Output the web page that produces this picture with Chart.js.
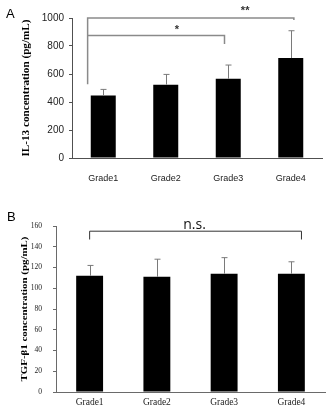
<!DOCTYPE html>
<html>
<head>
<meta charset="utf-8">
<script src="https://cdn.jsdelivr.net/npm/chart.js@4/dist/chart.umd.min.js"></script>
<style>
  html, body { margin: 0; padding: 0; background: #fff; }
  #wrap { position: relative; width: 328px; height: 414px; }
  #il13, #tgf { position: absolute; left: 0; }
  #il13 { top: 0; }
  #tgf { top: 200px; }
</style>
</head>
<body>
<div id="wrap">
  <canvas id="il13" width="328" height="200"></canvas>
  <canvas id="tgf" width="328" height="214"></canvas>
</div>
<script>
// Grade categories shared by both panels
const grades = ['Grade1', 'Grade2', 'Grade3', 'Grade4'];

// Panel A: IL-13 (pg/mL), mean and upper SD
const il13Mean = [447, 524, 566, 714];
const il13Sd = [43, 73, 98, 195];

// Panel B: TGF-beta1 (pg/mL), mean and upper SD
const tgfMean = [112, 111, 114, 114];
const tgfSd = [10, 17, 15.5, 11.5];

// Significance brackets: ends in category units, heights in axis units
const il13Brackets = [
    { from: -0.25, to: 3.05, y: 1000, dropFrom: 526, dropTo: 985, label: '**', labelX: 2.27, labelY: 1030 },
    { from: -0.25, to: 1.94, y: 875, dropFrom: 875, dropTo: 814, label: '*', labelX: 1.18, labelY: 892 }
];
const tgfBrackets = [
    { from: 0.0, to: 3.15, y: 155, dropFrom: 147, dropTo: 147, label: 'n.s.', labelX: 1.56, labelY: 157 }
];

// Draws upper error bars, brackets, the rotated axis title and the panel letter
const overlayPlugin = {
    id: 'overlay',
    afterDatasetsDraw(chart, args, opts) {
        const ctx = chart.ctx;
        const x = chart.scales.x;
        const y = chart.scales.y;

        // error bars (upper half only)
        ctx.save();
        ctx.strokeStyle = opts.errColor;
        ctx.lineWidth = 1;
        opts.mean.forEach((m, i) => {
            const px = Math.round(x.getPixelForValue(i)) + 0.5;
            const top = y.getPixelForValue(m + opts.sd[i]);
            ctx.beginPath();
            ctx.moveTo(px, y.getPixelForValue(m));
            ctx.lineTo(px, top);
            ctx.moveTo(px - 3, top);
            ctx.lineTo(px + 3, top);
            ctx.stroke();
        });
        ctx.restore();

        // brackets
        ctx.save();
        ctx.strokeStyle = opts.bracketColor;
        ctx.lineWidth = opts.bracketWidth;
        opts.brackets.forEach(b => {
            const x1 = x.getPixelForValue(b.from);
            const x2 = x.getPixelForValue(b.to);
            const yy = y.getPixelForValue(b.y);
            ctx.beginPath();
            ctx.moveTo(x1, y.getPixelForValue(b.dropFrom));
            ctx.lineTo(x1, yy);
            ctx.lineTo(x2, yy);
            ctx.lineTo(x2, y.getPixelForValue(b.dropTo));
            ctx.stroke();

            ctx.fillStyle = opts.labelColor;
            ctx.font = opts.labelFont;
            ctx.textAlign = 'center';
            ctx.textBaseline = 'alphabetic';
            ctx.fillText(b.label, x.getPixelForValue(b.labelX), y.getPixelForValue(b.labelY));
        });
        ctx.restore();

        // rotated axis title, squeezed to its drawn length
        ctx.save();
        ctx.font = opts.titleFont;
        ctx.fillStyle = '#000';
        ctx.textAlign = 'center';
        ctx.textBaseline = 'middle';
        const w = ctx.measureText(opts.title).width;
        ctx.translate(opts.titleX, (y.top + y.bottom) / 2);
        ctx.rotate(-Math.PI / 2);
        ctx.scale(opts.titleLength / w, 1);
        ctx.fillText(opts.title, 0, 0);
        ctx.restore();

        // panel letter
        ctx.save();
        ctx.font = '13px "Liberation Sans", Arial, sans-serif';
        ctx.fillStyle = '#000';
        ctx.textAlign = 'left';
        ctx.textBaseline = 'top';
        ctx.fillText(opts.letter, opts.letterX, opts.letterY);
        ctx.restore();
    }
};

function makePanel(canvasId, cfg) {
    return new Chart(document.getElementById(canvasId), {
        type: 'bar',
        data: {
            labels: grades,
            datasets: [{
                data: cfg.mean,
                backgroundColor: '#000',
                borderWidth: 0,
                barPercentage: 0.4,
                categoryPercentage: 1.0
            }]
        },
        options: {
            responsive: false,
            animation: false,
            layout: { padding: cfg.padding },
            plugins: {
                legend: { display: false },
                tooltip: { enabled: false },
                overlay: cfg.overlay
            },
            scales: {
                x: {
                    grid: { display: false, drawTicks: false },
                    border: { display: true, color: cfg.axisColor, width: 1 },
                    ticks: { color: '#222', font: cfg.xFont, padding: cfg.xPad, maxRotation: 0 },
                    afterFit(scale) { scale.height = cfg.xHeight; }
                },
                y: {
                    min: 0,
                    max: cfg.max,
                    grid: { drawOnChartArea: false, tickLength: 3, color: cfg.axisColor },
                    border: { display: true, color: cfg.axisColor, width: 1 },
                    ticks: {
                        stepSize: cfg.step,
                        color: '#222',
                        font: cfg.yFont,
                        padding: cfg.yPad,
                        callback: v => String(v)
                    },
                    afterFit(scale) { scale.width = cfg.yWidth; }
                }
            }
        },
        plugins: [overlayPlugin]
    });
}

// Panel A
makePanel('il13', {
    mean: il13Mean,
    max: 1000,
    step: 200,
    padding: { top: 18, right: 6, left: 0, bottom: 0 },
    axisColor: '#505050',
    xFont: { family: '"Liberation Sans", Arial, sans-serif', size: 9 },
    yFont: { family: '"Liberation Sans", Arial, sans-serif', size: 10 },
    xPad: 15,
    yPad: 5,
    xHeight: 42,
    yWidth: 72,
    overlay: {
        mean: il13Mean,
        sd: il13Sd,
        errColor: '#7a7a7a',
        brackets: il13Brackets,
        bracketColor: '#8a8a8a',
        bracketWidth: 1.5,
        labelColor: '#333',
        labelFont: 'bold 11px "Liberation Sans", Arial, sans-serif',
        title: 'IL-13 concentration (pg/mL)',
        titleFont: 'bold 10px "Liberation Serif", "Times New Roman", serif',
        titleX: 26,
        titleLength: 137,
        letter: 'A',
        letterX: 6,
        letterY: 8
    }
});

// Panel B
makePanel('tgf', {
    mean: tgfMean,
    max: 160,
    step: 20,
    padding: { top: 26, right: 3, left: 0, bottom: 0 },
    axisColor: '#6a6a6a',
    xFont: { family: '"Liberation Serif", "Times New Roman", serif', size: 9.5 },
    yFont: { family: '"Liberation Serif", "Times New Roman", serif', size: 7.5 },
    xPad: 5,
    yPad: 11,
    xHeight: 22,
    yWidth: 56,
    overlay: {
        mean: tgfMean,
        sd: tgfSd,
        errColor: '#7a7a7a',
        brackets: tgfBrackets,
        bracketColor: '#333',
        bracketWidth: 1,
        labelColor: '#111',
        labelFont: '14px "Open Sans", "Liberation Sans", sans-serif',
        title: 'TGF-\u03b21 concentration (pg/mL)',
        titleFont: 'bold 8.5px "Liberation Serif", "Times New Roman", serif',
        titleX: 25,
        titleLength: 145,
        letter: 'B',
        letterX: 7,
        letterY: 11
    }
});
</script>
</body>
</html>
